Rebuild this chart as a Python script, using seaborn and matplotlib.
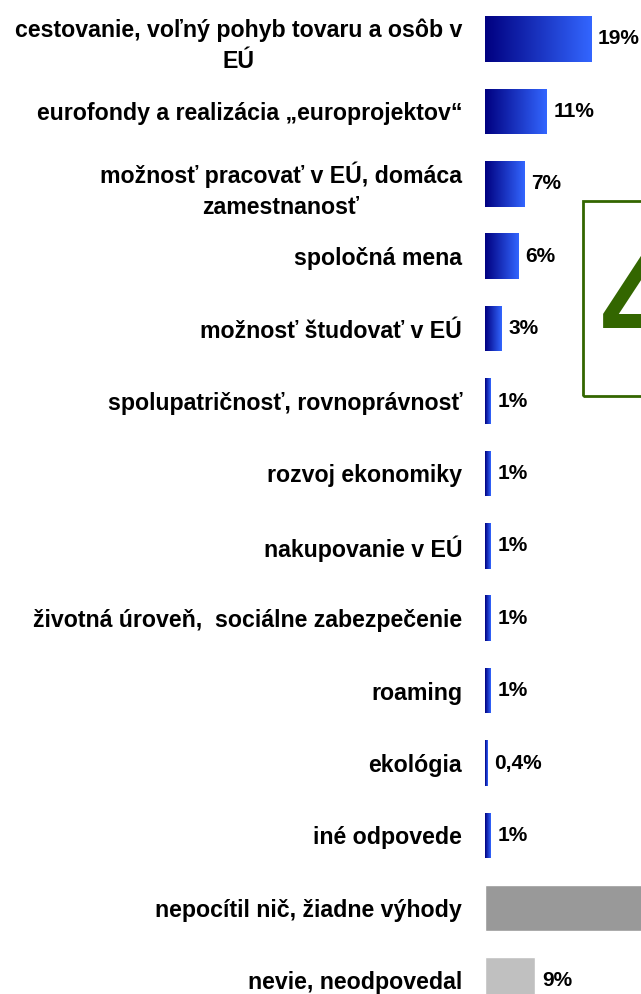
import numpy as np
import pandas as pd
import matplotlib
matplotlib.use("Agg")
import matplotlib.pyplot as plt
import seaborn as sns
from matplotlib.colors import LinearSegmentedColormap
from matplotlib.patches import Rectangle

# Data
categories = [
    "cestovanie, voľný pohyb tovaru a osôb v\nEÚ",
    "eurofondy a realizácia „europrojektov“",
    "možnosť pracovať v EÚ, domáca\nzamestnanosť",
    "spoločná mena",
    "možnosť študovať v EÚ",
    "spolupatričnosť, rovnoprávnosť",
    "rozvoj ekonomiky",
    "nakupovanie v EÚ",
    "životná úroveň,  sociálne zabezpečenie",
    "roaming",
    "ekológia",
    "iné odpovede",
    "nepocítil nič, žiadne výhody",
    "nevie, neodpovedal",
]
values = [19, 11, 7, 6, 3, 1, 1, 1, 1, 1, 0.4, 1, 42, 9]
value_labels = ["19%", "11%", "7%", "6%", "3%", "1%", "1%", "1%", "1%", "1%",
                "0,4%", "1%", "42%", "9%"]
gray_colors = {"nepocítil nič, žiadne výhody": "#999999",
               "nevie, neodpovedal": "#c0c0c0"}
callout_text = "42%"

df = pd.DataFrame({"category": categories, "value": values})
palette = {c: gray_colors.get(c, "#3366ff") for c in categories}

sns.set_style("white")
plt.rcParams["font.family"] = ["Liberation Sans", "DejaVu Sans"]

W, H = 641, 994
fig = plt.figure(figsize=(W / 100, H / 100), dpi=100)

# axes placed in pixel terms: x=0 at 485px, ~5.58 px per percent
px_per_pct = 5.58
x0 = 485
row0, row_step = 39, 72.4
top = row0 - row_step / 2
bottom = row0 + row_step * 13.5
ax = fig.add_axes([x0 / W, (H - bottom) / H, (W - x0) / W, (bottom - top) / H])

sns.barplot(data=df, y="category", x="value", hue="category", palette=palette,
            legend=False, width=0.63, orient="h", ax=ax, saturation=1)

xmax = (W - x0) / px_per_pct
ax.set_xlim(0, xmax)
for s in ax.spines.values():
    s.set_visible(False)
ax.set_xticks([])
ax.set_xlabel("")
ax.set_ylabel("")
ax.tick_params(axis="y", length=0, pad=16.5)
for t in ax.get_yticklabels():
    t.set_fontsize(16.7)
    t.set_fontweight("bold")
    t.set_color("black")
    t.set_multialignment("center")
    t.set_linespacing(1.45)

# gradient fill for the blue bars
cmap = LinearSegmentedColormap.from_list("navyblue", ["#000080", "#3366ff"])
grad = np.linspace(0, 1, 256).reshape(1, -1)
for patch, cat in zip(ax.patches, categories):
    if cat in gray_colors:
        continue
    x, y = patch.get_x(), patch.get_y()
    w, h = patch.get_width(), patch.get_height()
    im = ax.imshow(grad, cmap=cmap, aspect="auto", extent=[x, x + w, y + h, y],
                   zorder=3)
    im.set_clip_path(patch)

ax.set_ylim(13.5, -0.5)

# value labels (the one past the right edge is not visible in the original)
for i, (v, lab) in enumerate(zip(values, value_labels)):
    if v > xmax:
        continue
    ax.annotate(lab, xy=(v, i), xytext=(5, 0), textcoords="offset points",
                ha="left", va="center", fontsize=15, fontweight="bold",
                color="black", annotation_clip=False)

# green callout box (cut by the right edge)
fig.patches.append(Rectangle((583 / W, (H - 396) / H), 120 / W, 195 / H,
                             transform=fig.transFigure, fill=False,
                             edgecolor="#336600", linewidth=2))
fig.text(601 / W, (H - 348) / H, callout_text, ha="left", va="baseline",
         fontsize=101, fontweight="bold", color="#336600")

fig.savefig("out.png", dpi=100)
